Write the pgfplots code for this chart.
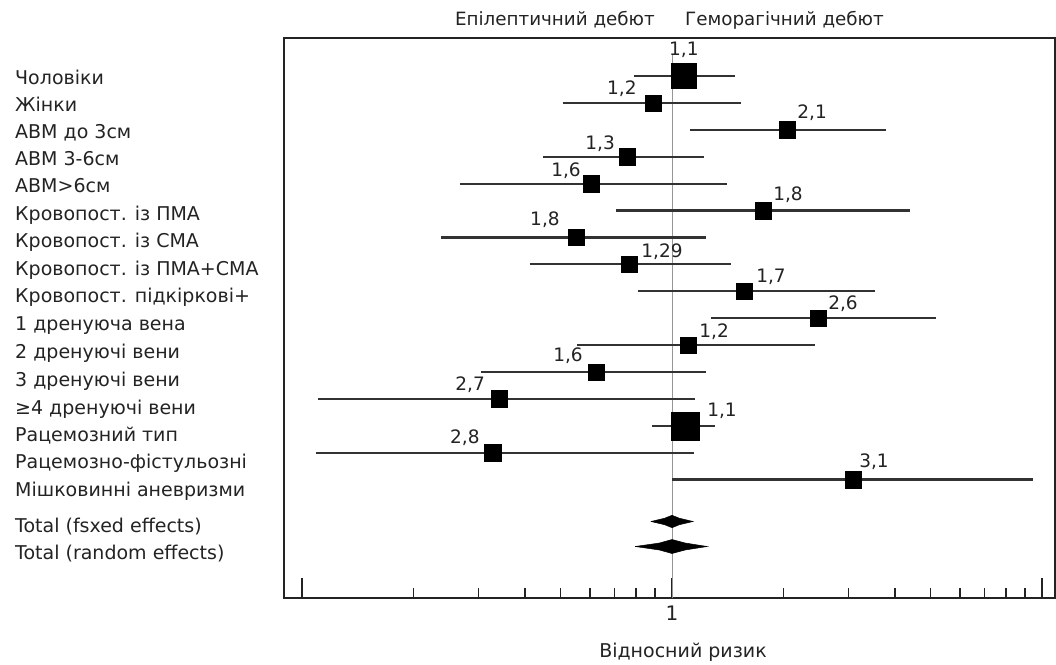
\documentclass[border=0pt]{standalone}
\usepackage{pgfplots}
\pgfplotsset{compat=1.18}
\usepackage{fontspec}
\setmainfont{DejaVu Sans}
\definecolor{ink}{RGB}{35,35,35}
\definecolor{ciline}{RGB}{50,50,50}
\definecolor{refgray}{RGB}{150,150,150}
\newcommand\lab{\fontsize{19}{21}\selectfont}
\newcommand\toplab{\fontsize{18.3}{20}\selectfont}
\newcommand\val{\fontsize{18.5}{19}\selectfont}

% odds ratio of each row (row 1 = top)
\pgfplotstableread{
row or
2 0.888
3 2.046
4 0.756
5 0.604
6 1.762
7 0.550
8 0.765
9 1.565
10 2.48
11 1.105
12 0.623
13 0.341
15 0.328
16 3.085
}\smallsq
\pgfplotstableread{
row or
1 1.077
}\bigsqa
\pgfplotstableread{
row or
14 1.084
}\bigsqb

\begin{document}
\begin{tikzpicture}
\begin{axis}[
  at={(284pt,-598pt)}, anchor=south west,
  scale only axis, width=771pt, height=560pt,
  xmode=log, log basis x=10,
  xmin=0.0894, xmax=10.84,
  y dir=reverse, ymin=-0.413, ymax=20.405,
  axis line style={ink, line width=2.2pt},
  ytick=\empty,
  xtick={0.1,1,10}, xticklabels={,1,},
  minor xtick={0.2,0.3,0.4,0.5,0.6,0.7,0.8,0.9,2,3,4,5,6,7,8,9},
  xtick pos=bottom, tick align=inside,
  major tick length=20pt, minor tick length=10pt,
  every tick/.style={ink, line width=1.5pt},
  xticklabel style={font=\fontsize{20}{20}\selectfont, text=ink, yshift=-4pt},
  clip=false,
  ci/.style={ciline, line width=2.2pt},
]
% reference line at RR = 1
\addplot[refgray, line width=0.9pt] coordinates {(1,0.22) (1,20.405)};

% confidence intervals
\addplot[ci] coordinates {(0.789,1) (1.480,1)};
\addplot[ci] coordinates {(0.507,2) (1.536,2)};
\addplot[ci] coordinates {(1.118,3) (3.786,3)};
\addplot[ci] coordinates {(0.448,4) (1.220,4)};
\addplot[ci] coordinates {(0.267,5) (1.408,5)};
\addplot[ci] coordinates {(0.706,6) (4.400,6)};
\addplot[ci] coordinates {(0.2375,7) (1.236,7)};
\addplot[ci] coordinates {(0.413,8) (1.443,8)};
\addplot[ci] coordinates {(0.809,9) (3.537,9)};
\addplot[ci] coordinates {(1.275,10) (5.170,10)};
\addplot[ci] coordinates {(0.554,11) (2.435,11)};
\addplot[ci] coordinates {(0.305,12) (1.236,12)};
\addplot[ci] coordinates {(0.1105,13) (1.154,13)};
\addplot[ci] coordinates {(0.883,14) (1.307,14)};
\addplot[ci] coordinates {(0.109,15) (1.147,15)};
\addplot[ci] coordinates {(1.000,16) (9.456,16)};

% point estimates
\addplot[only marks, mark=square*, mark size=8.2pt, black] table[x=or, y=row] {\smallsq};
\addplot[only marks, mark=square*, mark size=12.5pt, black] table[x=or, y=row] {\bigsqa};
\addplot[only marks, mark=square*, mark size=14pt, black] table[x=or, y=row] {\bigsqb};

% pooled estimates
\addplot[fill=black, draw=black, line width=0.5pt] coordinates {
  (0.877,17.56) (0.955,17.44) (1,17.33) (1.047,17.44)
  (1.14,17.56) (1.047,17.68) (1,17.79) (0.955,17.68) (0.877,17.56)};
\addplot[fill=black, draw=black, line width=0.5pt] coordinates {
  (0.795,18.49) (0.925,18.36) (1,18.23) (1.085,18.36)
  (1.245,18.49) (1.085,18.62) (1,18.75) (0.925,18.62) (0.795,18.49)};

% value labels
\begin{scope}[every node/.style={font=\val, text=ink}]
\node[xshift=0pt,yshift=26pt] at (axis cs:1.077,1) {1,1};
\node[xshift=-31pt,yshift=14pt] at (axis cs:0.888,2) {1,2};
\node[xshift=25pt,yshift=17pt] at (axis cs:2.046,3) {2,1};
\node[xshift=-27pt,yshift=13pt] at (axis cs:0.756,4) {1,3};
\node[xshift=-25pt,yshift=13pt] at (axis cs:0.604,5) {1,6};
\node[xshift=25pt,yshift=16pt] at (axis cs:1.762,6) {1,8};
\node[xshift=-31pt,yshift=18pt] at (axis cs:0.550,7) {1,8};
\node[xshift=33pt,yshift=13pt] at (axis cs:0.765,8) {1,29};
\node[xshift=27pt,yshift=14pt] at (axis cs:1.565,9) {1,7};
\node[xshift=25pt,yshift=14pt] at (axis cs:2.48,10) {2,6};
\node[xshift=26pt,yshift=13pt] at (axis cs:1.105,11) {1,2};
\node[xshift=-28pt,yshift=16pt] at (axis cs:0.623,12) {1,6};
\node[xshift=-29pt,yshift=14pt] at (axis cs:0.341,13) {2,7};
\node[xshift=37pt,yshift=15pt] at (axis cs:1.084,14) {1,1};
\node[xshift=-28pt,yshift=15pt] at (axis cs:0.328,15) {2,8};
\node[xshift=21pt,yshift=18pt] at (axis cs:3.085,16) {3,1};
\end{scope}
\end{axis}

% row labels
\begin{scope}[every node/.style={font=\lab, text=ink, anchor=base west, inner sep=0pt}]
\node at (15pt,-84.5pt) {Чоловіки};
\node at (15pt,-111.5pt) {Жінки};
\node at (15pt,-138.5pt) {АВМ до 3см};
\node at (15pt,-165.5pt) {АВМ 3-6см};
\node at (15pt,-192.5pt) {АВМ>6см};
\node at (15pt,-220.5pt) {Кровопост. із ПМА};
\node at (15pt,-247.5pt) {Кровопост. із СМА};
\node at (15pt,-275.5pt) {Кровопост. із ПМА+СМА};
\node at (15pt,-302.5pt) {Кровопост. підкіркові+};
\node at (15pt,-330.5pt) {1 дренуюча вена};
\node at (15pt,-358.5pt) {2 дренуючі вени};
\node at (15pt,-386.5pt) {3 дренуючі вени};
\node at (15pt,-414.5pt) {≥4 дренуючі вени};
\node at (15pt,-441.5pt) {Рацемозний тип};
\node at (15pt,-468.5pt) {Рацемозно-фістульозні};
\node at (15pt,-496.5pt) {Мішковинні аневризми};
\node at (15pt,-532.5pt) {Total (fsxed effects)};
\node at (15pt,-559.5pt) {Total (random effects)};
\end{scope}

\node[font=\toplab, text=ink, anchor=east, inner sep=0pt] at (655pt,-20pt) {Епілептичний дебют};
\node[font=\toplab, text=ink, anchor=west, inner sep=0pt] at (685pt,-20pt) {Геморагічний дебют};
\node[font=\lab, text=ink, inner sep=0pt] at (683pt,-652pt) {Відносний ризик};

\pgfresetboundingbox
\useasboundingbox (0pt,0pt) rectangle (1056pt,-664pt);
\end{tikzpicture}
\end{document}
